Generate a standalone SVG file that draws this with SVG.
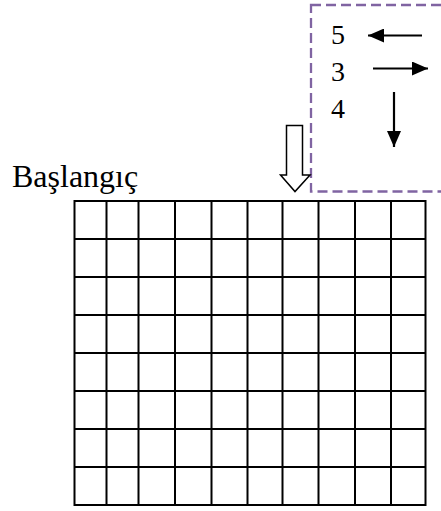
<svg xmlns="http://www.w3.org/2000/svg" width="441" height="511" viewBox="0 0 441 511">
<defs>
<style>
.t{font-family:"Liberation Serif","Times New Roman",serif;fill:#000}
.g{stroke:#000;stroke-width:2;fill:none}
.ar{stroke:#000;stroke-width:2.2;fill:none}
</style>
<marker id="ah" viewBox="0 0 16 14" refX="16" refY="7" markerWidth="16" markerHeight="14" markerUnits="userSpaceOnUse" orient="auto">
<path d="M0,0 L16,7 L0,14 Z" fill="#000"/>
</marker>
</defs>
<rect width="441" height="511" fill="#fff"/>
<g id="legend">
<rect x="311" y="5" width="140" height="186.5" fill="none" stroke="#8064A2" stroke-width="2.3" stroke-dasharray="10 5"/>
<text class="t" x="331" y="44" font-size="28">5</text>
<text class="t" x="331" y="81" font-size="28">3</text>
<text class="t" x="331" y="118" font-size="28">4</text>
</g>
<g id="connectors">
<line class="ar" x1="422" y1="35.5" x2="368" y2="35.5" marker-end="url(#ah)"/>
<line class="ar" x1="373" y1="68.5" x2="428" y2="68.5" marker-end="url(#ah)"/>
<line class="ar" x1="394" y1="92" x2="394" y2="147" marker-end="url(#ah)"/>
</g>
<g id="start-arrow">
<path d="M286.5,125.5 H302.5 V175 H310 L295,191.5 L280.5,175 H286.5 Z" fill="#fff" stroke="#000" stroke-width="1.5" stroke-linejoin="miter"/>
</g>
<g id="start-label">
<text class="t" x="12" y="187" font-size="32">Başlangıç</text>
</g>
<g id="grid" class="g">
<rect x="74.5" y="201" width="351" height="304" class="g"/>
<path class="g" d="M106.5,201V505 M138.5,201V505 M175,201V505 M211.5,201V505 M247.5,201V505 M282.5,201V505 M318.5,201V505 M355,201V505 M391,201V505
M74.5,239H425.5 M74.5,277H425.5 M74.5,315H425.5 M74.5,353H425.5 M74.5,391H425.5 M74.5,429H425.5 M74.5,467H425.5"/>
</g>
</svg>
